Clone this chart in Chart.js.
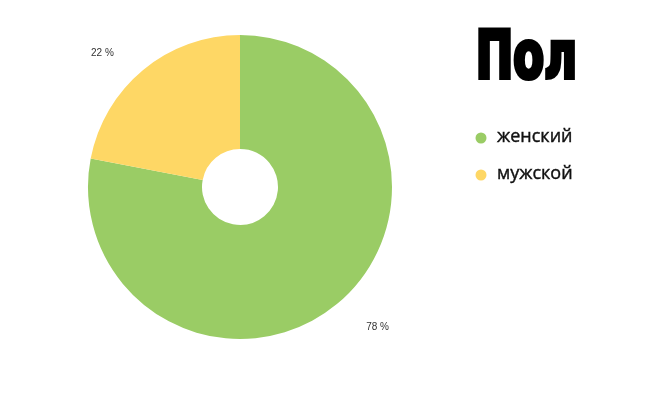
<!DOCTYPE html>
<html><head><meta charset="utf-8">
<script src="https://cdn.jsdelivr.net/npm/chart.js@4.4.0/dist/chart.umd.min.js"></script>
<style>html,body{margin:0;padding:0;background:#fff;}#wrap{width:670px;height:400px;}</style>
</head><body><div id="wrap"><canvas id="c" width="670" height="400"></canvas></div>
<script>
const title = "Пол";
const categories = ["женский", "мужской"];
const values = [78, 22];
const colors = ["#9ACC65", "#FED765"];

const overlay = {
  id: 'overlay',
  afterDraw(chart) {
    const ctx = chart.ctx;
    const meta = chart.getDatasetMeta(0);
    // slice value labels
    ctx.save();
    ctx.font = '10px "Liberation Sans", Arial, sans-serif';
    ctx.fillStyle = '#333';
    ctx.textAlign = 'center';
    ctx.textBaseline = 'middle';
    meta.data.forEach((arc, i) => {
      const a = (arc.startAngle + arc.endAngle) / 2;
      const r = arc.outerRadius;
      const x = arc.x + Math.cos(a) * r * 1.42;
      const y = arc.y + Math.sin(a) * r * 1.17 + 3;
      ctx.fillText(values[i] + ' %', x, y);
    });
    ctx.restore();
    // title fitted into box
    ctx.save();
    ctx.font = 'bold 80px "Liberation Sans Narrow", "DejaVu Sans Condensed", "Liberation Sans", sans-serif';
    ctx.fillStyle = '#000';
    ctx.strokeStyle = '#000';
    ctx.textBaseline = 'alphabetic';
    ctx.textAlign = 'left';
    const m = ctx.measureText(title);
    const lw = 5;
    const w = m.actualBoundingBoxLeft + m.actualBoundingBoxRight + lw;
    const h = m.actualBoundingBoxAscent + m.actualBoundingBoxDescent + lw;
    const bx = 478, by = 27, bw = 97, bh = 54;
    ctx.translate(bx, by);
    ctx.scale(bw / w, bh / h);
    ctx.lineWidth = lw;
    ctx.lineJoin = 'miter';
    const tx = m.actualBoundingBoxLeft + lw / 2, ty = m.actualBoundingBoxAscent + lw / 2;
    ctx.fillText(title, tx, ty);
    ctx.strokeText(title, tx, ty);
    ctx.restore();
    // legend
    ctx.save();
    ctx.font = '18px "Open Sans", "Noto Sans", sans-serif';
    ctx.textBaseline = 'middle';
    ctx.textAlign = 'left';
    categories.forEach((c, i) => {
      const y = 138 + i * 37;
      ctx.beginPath();
      ctx.fillStyle = colors[i];
      ctx.arc(481, y, 5.5, 0, Math.PI * 2);
      ctx.fill();
      ctx.fillStyle = '#111';
      ctx.strokeStyle = '#111';
      ctx.lineWidth = 0.4;
      ctx.fillText(c, 497, y - 1);
      ctx.strokeText(c, 497, y - 1);
    });
    ctx.restore();
  }
};

new Chart(document.getElementById('c'), {
  type: 'doughnut',
  data: {
    labels: categories,
    datasets: [{ data: values, backgroundColor: colors, borderWidth: 0, hoverOffset: 0 }]
  },
  options: {
    responsive: false,
    animation: false,
    cutout: '25%',
    layout: { padding: { left: 88, right: 278, top: 35, bottom: 61 } },
    plugins: { legend: { display: false }, tooltip: { enabled: false } },
    events: []
  },
  plugins: [overlay]
});
</script></body></html>
